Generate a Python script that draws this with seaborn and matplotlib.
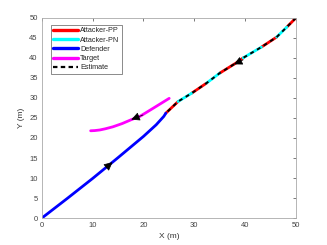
import pandas as pd
import seaborn as sns
import matplotlib.pyplot as plt
from matplotlib.lines import Line2D

# attacker path, from the start (50,50) down to the intercept
att_x = [50, 48.2, 46.2, 43.2, 39.6, 38.3, 35.0, 32.4, 29.5, 26.8, 24.4]
att_y = [50, 47.7, 45.2, 42.7, 40.0, 38.8, 36.2, 33.7, 31.2, 29.1, 26.2]
# guidance mode used on each stretch of the path (between the indexed points)
att_mode = [(0, 1, 'PP'), (1, 2, 'PN'), (2, 3, 'PP'), (3, 4, 'PN'),
            (4, 6, 'PP'), (6, 7, 'PN'), (7, 8, 'PP'), (8, 9, 'PN'), (9, 10, 'PP')]

def_x = [0, 5, 10, 15, 20, 22.5, 24.0, 24.4]
def_y = [0, 4.9, 9.9, 15.1, 20.4, 23.3, 25.4, 26.2]

tgt_x = [25.06, 22, 19.3, 17.65, 15.8, 14.0, 12.5, 11.4, 10.4, 9.6]
tgt_y = [29.9, 27.5, 25.4, 24.6, 23.6, 22.8, 22.3, 22.0, 21.85, 21.8]

# build one table for the attacker segments
rows = []
for k, (i0, i1, mode) in enumerate(att_mode):
    for i in range(i0, i1 + 1):
        rows.append({'x': att_x[i], 'y': att_y[i], 'seg': k, 'mode': mode})
att = pd.DataFrame(rows)

sns.set_style("white")
plt.rcParams['font.family'] = ['Liberation Sans', 'DejaVu Sans']

fig = plt.figure(figsize=(3.27, 2.45), dpi=100)
ax = fig.add_axes([0.128, 0.110, 0.777, 0.817])

sns.lineplot(data=att, x='x', y='y', hue='mode', units='seg', estimator=None,
             sort=False, palette={'PP': 'red', 'PN': 'cyan'}, lw=2, legend=False, ax=ax)
sns.lineplot(x=def_x, y=def_y, sort=False, color='blue', lw=2, ax=ax)
sns.lineplot(x=tgt_x, y=tgt_y, sort=False, color='magenta', lw=2, ax=ax)
sns.lineplot(x=att_x, y=att_y, sort=False, color='black', lw=1.4,
             linestyle=(0, (2, 2)), ax=ax)

# direction arrows
for tip, base in [((13.9, 13.95), (12.6, 12.55)),
                  ((37.8, 38.4), (39.6, 39.5)),
                  ((17.6, 24.6), (19.9, 25.75))]:
    ax.annotate('', xy=tip, xytext=base,
                arrowprops=dict(arrowstyle='-|>', mutation_scale=13, color='k',
                                lw=0.5, shrinkA=0, shrinkB=0))

ax.set_xlim(0, 50)
ax.set_ylim(0, 50)
ax.set_xticks(range(0, 51, 10))
ax.set_yticks(range(0, 51, 5))
ax.set_xlabel('X (m)', fontsize=6, color='#333333', labelpad=3)
ax.set_ylabel('Y (m)', fontsize=6, color='#333333', labelpad=3)
ax.tick_params(direction='in', length=2, width=0.5, labelsize=5.5,
               colors='#444444', top=True, right=True, pad=3)
for s in ax.spines.values():
    s.set_color('#aaaaaa')
    s.set_linewidth(0.6)

handles = [Line2D([], [], color='red', lw=2.4),
           Line2D([], [], color='cyan', lw=2.4),
           Line2D([], [], color='blue', lw=2.4),
           Line2D([], [], color='magenta', lw=2.4),
           Line2D([], [], color='black', lw=1.6, linestyle=(0, (2, 1.5)))]
labels = ['Attacker-PP', 'Attacker-PN', 'Defender', 'Target', 'Estimate']
leg = ax.legend(handles, labels, loc='upper left', fontsize=5.2, frameon=True,
                fancybox=False, edgecolor='#333333', handlelength=3.4,
                handletextpad=0.3, labelspacing=0.3, borderpad=0.35,
                borderaxespad=0.0, bbox_to_anchor=(0.035, 0.965))
leg.get_frame().set_linewidth(0.5)

fig.savefig('out.png', dpi=100)
